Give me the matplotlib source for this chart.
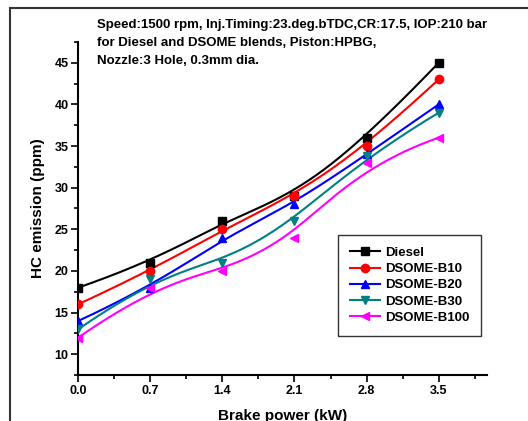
import numpy as np
import matplotlib
matplotlib.use("Agg")
import matplotlib.pyplot as plt
from matplotlib.patches import Rectangle
from matplotlib.ticker import MultipleLocator

plt.rcParams['font.family'] = ['Liberation Sans', 'DejaVu Sans']
plt.rcParams['font.weight'] = 'bold'

brake_power = [0.0, 0.7, 1.4, 2.1, 2.8, 3.5]
diesel = [18, 21, 26, 29, 36, 45]
b10 = [16, 20, 25, 29, 35, 43]
b20 = [14, 18, 24, 28, 34, 40]
b30 = [13, 19, 21, 26, 33.8, 39]
b100 = [12, 18, 20, 24, 33, 36]

series_names = ["Diesel", "DSOME-B10", "DSOME-B20", "DSOME-B30", "DSOME-B100"]
series_values = [diesel, b10, b20, b30, b100]
colors = ["#000000", "#FF0000", "#0000FF", "#008080", "#FF00FF"]
markers = ["s", "o", "^", "v", "<"]
x_ticks = [0.0, 0.7, 1.4, 2.1, 2.8, 3.5]


def bspline_curve(x, y, n=300):
    """Clamped cubic B-spline using the data points as control points."""
    P = np.column_stack([x, y]).astype(float)
    k = 3
    m = len(P)
    inner = np.arange(1, m - k)
    knots = np.concatenate([[0] * (k + 1), inner, [m - k] * (k + 1)]).astype(float)
    ts = np.linspace(0, m - k, n)
    out = []
    for t in ts:
        if t >= knots[-1]:
            i = m - 1
        else:
            i = np.searchsorted(knots, t, side='right') - 1
        d = [P[j + i - k].copy() for j in range(k + 1)]
        for r in range(1, k + 1):
            for j in range(k, r - 1, -1):
                denom = knots[j + 1 + i - r] - knots[j + i - k]
                a = 0 if denom == 0 else (t - knots[j + i - k]) / denom
                d[j] = (1 - a) * d[j - 1] + a * d[j]
        out.append(d[k])
    out = np.array(out)
    return out[:, 0], out[:, 1]


fig = plt.figure(figsize=(5.28, 4.21), dpi=100)
fig.patches.append(Rectangle((10 / 528, -0.1), 1.2, 1 - 8 / 421 + 0.1,
                             transform=fig.transFigure, fill=False,
                             edgecolor='#333333', linewidth=1.5, zorder=0))

ax = fig.add_axes([78.3 / 528, 46 / 421, (487 - 78.3) / 528, (375 - 42) / 421])

for name, vals, c, m in zip(series_names, series_values, colors, markers):
    xs, ys = bspline_curve(brake_power, vals)
    ax.plot(xs, ys, color=c, linewidth=1.5, zorder=2)
    ax.plot(brake_power, vals, linestyle='none', marker=m, color=c,
            markersize=6, zorder=3)
    ax.plot([], [], color=c, marker=m, markersize=6, linewidth=1.5, label=name)

ax.set_xlim(0, 3.97)
ax.set_ylim(7.5, 47.5)
ax.set_xticks(x_ticks)
ax.set_xticklabels([f"{v:.1f}" for v in x_ticks])
ax.xaxis.set_minor_locator(MultipleLocator(0.35))
ax.yaxis.set_minor_locator(MultipleLocator(2.5))
ax.set_yticks([10, 15, 20, 25, 30, 35, 40, 45])

for s in ['top', 'right']:
    ax.spines[s].set_visible(False)
for s in ['left', 'bottom']:
    ax.spines[s].set_linewidth(1.5)
ax.tick_params(which='major', direction='out', length=5, width=1.2,
               labelsize=9, pad=2)
ax.tick_params(which='minor', direction='out', length=3, width=1.2)
for lab in ax.get_xticklabels() + ax.get_yticklabels():
    lab.set_fontweight('bold')

ax.set_xlabel("Brake power (kW)", fontsize=11, fontweight='bold', labelpad=9)
ax.set_ylabel("HC emission (ppm)", fontsize=11, fontweight='bold', labelpad=7)

fig.text(97 / 528, 1 - 19 / 421,
         "Speed:1500 rpm, Inj.Timing:23.deg.bTDC,CR:17.5, IOP:210 bar\n"
         "for Diesel and DSOME blends, Piston:HPBG,\n"
         "Nozzle:3 Hole, 0.3mm dia.",
         fontsize=9.5, fontweight='bold', va='top', ha='left',
         linespacing=1.65)

leg = ax.legend(loc='upper left', bbox_to_anchor=(338 / 528, 1 - 235 / 421),
                bbox_transform=fig.transFigure, frameon=True, fancybox=False,
                edgecolor='black', fontsize=9.5, handlelength=2.3,
                borderaxespad=0, labelspacing=0.3, borderpad=0.9,
                handletextpad=0.35)
leg.get_frame().set_linewidth(1.0)
for t in leg.get_texts():
    t.set_fontweight('bold')

fig.savefig("out.png", dpi=100)
